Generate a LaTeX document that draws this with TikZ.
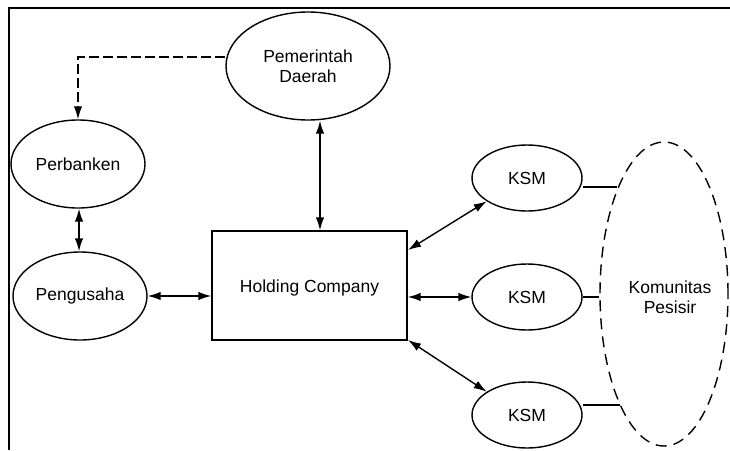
\documentclass[tikz,border=0pt]{standalone}
\usepackage{fontspec}
\setmainfont{Liberation Sans}
\usetikzlibrary{arrows.meta,shapes.geometric}
\begin{document}
\begin{tikzpicture}[x=1pt,y=-1pt,
  line width=1.4pt,
  txt/.style={font=\fontsize{17.5}{20}\selectfont,align=center},
  oval/.style={draw,ellipse,inner sep=0pt,txt},
  tip/.style={{Latex[length=13pt,width=8.5pt]}-{Latex[length=13pt,width=8.5pt]}},
  onetip/.style={-{Latex[length=13pt,width=8.5pt]}}]
\useasboundingbox (0,0) rectangle (730,450);
% frame
\draw (9,450) -- (9,8) -- (730,8);
% nodes
\node[oval,minimum width=164pt,minimum height=108pt] (pem) at (308,66) {Pemerintah\\Daerah};
\node[oval,minimum width=134pt,minimum height=88pt] (bank) at (78,164) {Perbanken};
\node[oval,minimum width=134pt,minimum height=88pt] (peng) at (80,296) {Pengusaha};
\node[draw,minimum width=195pt,minimum height=109pt] (hold) at (309.5,285.5) {};
\node[txt] (holdt) at (309.5,288) {Holding Company};
\node[oval,minimum width=110pt,minimum height=66pt] (k1) at (527,178) {KSM};
\node[oval,minimum width=110pt,minimum height=66pt] (k2) at (527,297) {KSM};
\node[oval,minimum width=110pt,minimum height=66pt] (k3) at (527,415) {KSM};
\node[draw,ellipse,dashed,dash pattern=on 11pt off 7pt,minimum width=128pt,minimum height=304pt] (kom) at (664,294) {};
\node[txt] (komt) at (670,297) {Komunitas\\Pesisir};
% connectors
\coordinate (c1) at (78,57);
\draw[dashed,dash pattern=on 10pt off 4pt,onetip] (pem.west |- c1) -- (c1) -- (bank.north);
\draw[tip] (pem.south -| 320,0) -- (hold.north -| 320,0);
\draw[tip] (bank.south -| 79,0) -- (peng.north -| 79,0);
\draw[tip] (peng.east) -- (hold.west |- peng.east);
\coordinate (h1) at (408,250);
\coordinate (h3) at (408,340);
\draw[tip] (h1) -- (k1.-150);
\draw[tip] (hold.east |- k2.west) -- (k2.west);
\draw[tip] (h3) -- (k3.150);
\coordinate (e1) at (617,187);
\coordinate (e3) at (620,405);
\draw (k1.east |- e1) -- (e1);
\draw (k2.east) -- (kom.west |- k2.east);
\draw (k3.east |- e3) -- (e3);
\end{tikzpicture}
\end{document}
